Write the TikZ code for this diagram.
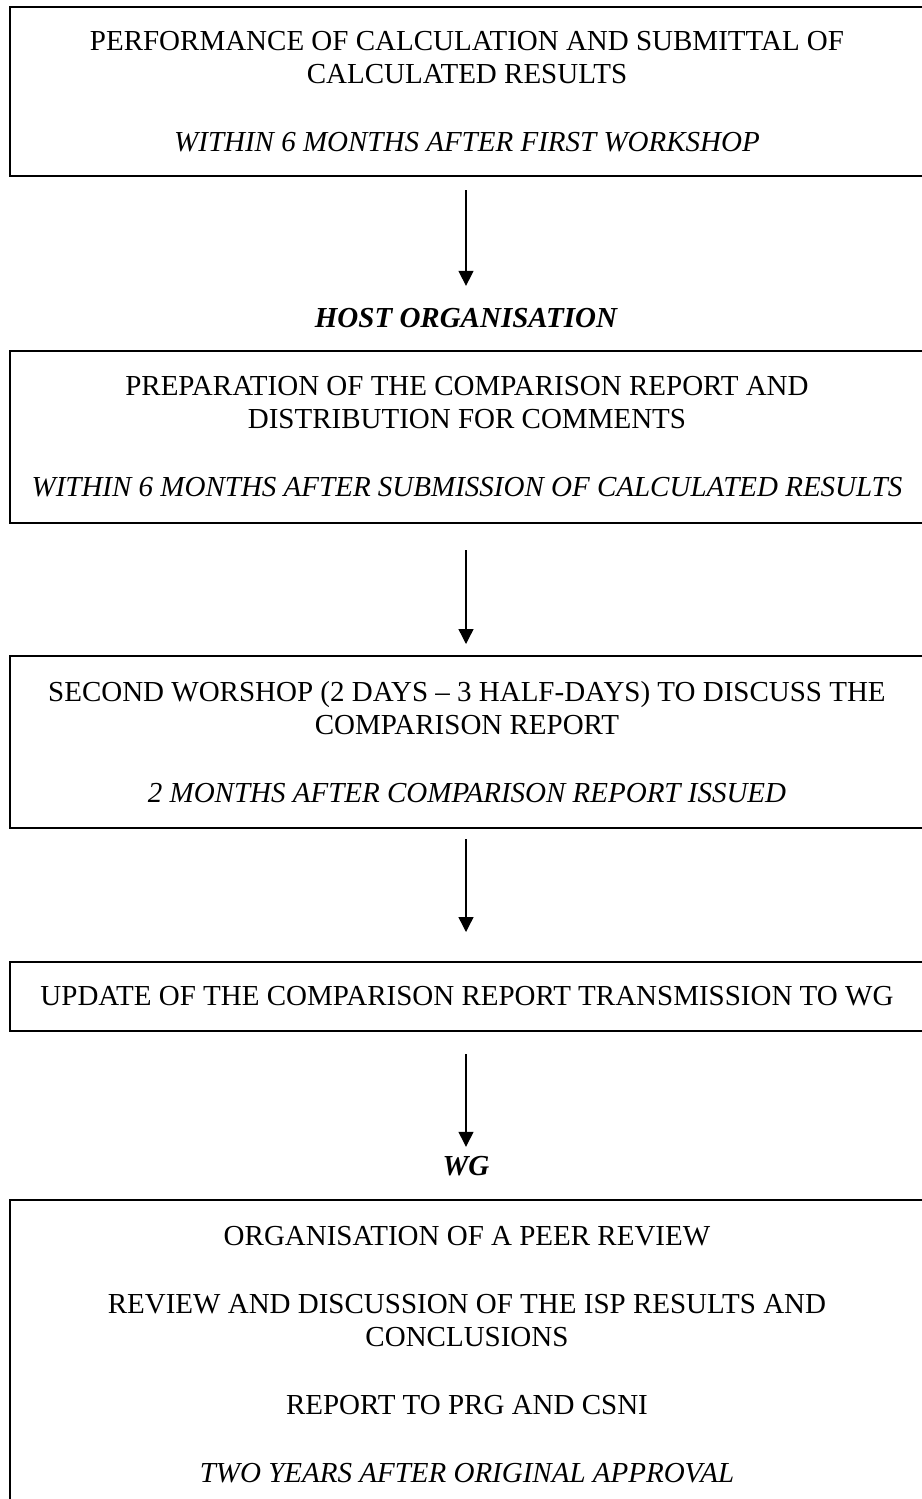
\documentclass[tikz,border=0pt]{standalone}
\usepackage{fontspec}
\setmainfont{Liberation Serif}
\usetikzlibrary{arrows.meta}

\begin{document}
\begin{tikzpicture}[x=0.5pt, y=-0.5pt,
    font=\fontsize{14.5}{16.5}\selectfont,
    stage/.style={draw, line width=1pt, align=center, minimum width=457pt, inner sep=0pt},
    actor/.style={inner sep=0pt, font=\fontsize{14.5}{16.5}\selectfont\bfseries\itshape},
    flow/.style={line width=0.7pt, -{Triangle[length=7.5pt, width=7.5pt]}}]
    \useasboundingbox (0, 0) rectangle (921, 1499);

    \node[stage, minimum height=84.5pt] (calc) at (467, 91.5)
      {PERFORMANCE OF CALCULATION AND SUBMITTAL OF\\
       CALCULATED RESULTS\\[17.5pt]
       \itshape WITHIN 6 MONTHS AFTER FIRST WORKSHOP};
    \node[actor] (host) at (466, 318) {HOST ORGANISATION};
    \node[stage, minimum height=86pt] (prep) at (467, 437)
      {PREPARATION OF THE COMPARISON REPORT AND\\
       DISTRIBUTION FOR COMMENTS\\[17.5pt]
       \itshape WITHIN 6 MONTHS AFTER SUBMISSION OF CALCULATED RESULTS};
    \node[stage, minimum height=86pt] (wshop) at (467, 742)
      {SECOND WORSHOP (2 DAYS -- 3 HALF-DAYS) TO DISCUSS THE\\
       COMPARISON REPORT\\[17.5pt]
       \itshape 2 MONTHS AFTER COMPARISON REPORT ISSUED};
    \node[stage, minimum height=34.5pt] (update) at (467, 996.5)
      {UPDATE OF THE COMPARISON REPORT TRANSMISSION TO WG};
    \node[actor] (wg) at (466, 1166) {WG};
    \node[stage, minimum height=155pt] (review) at (467, 1355)
      {ORGANISATION OF A PEER REVIEW\\[17.5pt]
       REVIEW AND DISCUSSION OF THE ISP RESULTS AND\\
       CONCLUSIONS\\[17.5pt]
       REPORT TO PRG AND CSNI\\[17.5pt]
       \itshape TWO YEARS AFTER ORIGINAL APPROVAL};

    % arrows between the steps
    \draw[flow, shorten <=6.5pt, shorten >=11pt] (calc.south -| host) -- (host);
    \draw[flow, shorten <=13pt, shorten >=5.5pt] (prep.south -| host) -- (wshop.north -| host);
    \draw[flow, shorten <=5pt, shorten >=14.5pt] (wshop.south -| host) -- (update.north -| host);
    \draw[flow, shorten <=11pt, shorten >=4.5pt] (update.south -| wg) -- (wg);
  \end{tikzpicture}
\end{document}
